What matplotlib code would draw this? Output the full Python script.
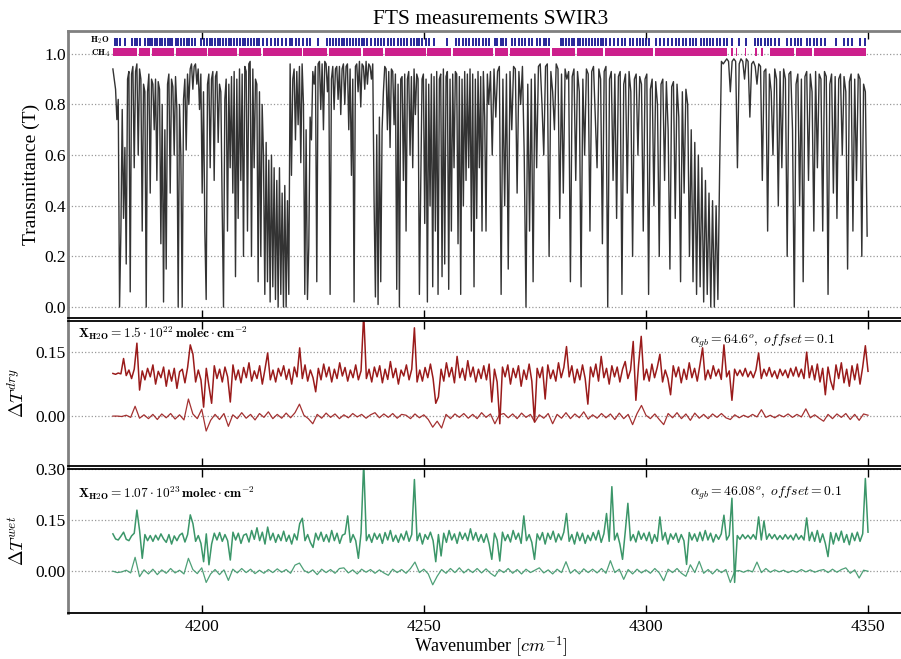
import numpy as np
import matplotlib
matplotlib.use("Agg")
import matplotlib.pyplot as plt

plt.rcParams['font.family'] = ['Liberation Serif', 'DejaVu Serif']
plt.rcParams['mathtext.fontset'] = 'cm'

# ---------------- data ----------------
# transmittance, part A: 4180.0 .. 4264.6 cm-1, sampled every 0.3 cm-1
trans_a = [
    0.94, 0.90, 0.86, 0.74, 0.82, 0.00, 0.30, 0.78, 0.35, 0.63,
    0.17, 0.90, 0.93, 0.06, 0.92, 0.95, 0.55, 0.93, 0.96, 0.60,
    0.94, 0.90, 0.30, 0.88, 0.85, 0.00, 0.85, 0.92, 0.45, 0.90,
    0.88, 0.70, 0.90, 0.50, 0.89, 0.86, 0.25, 0.80, 0.02, 0.70,
    0.15, 0.88, 0.92, 0.45, 0.90, 0.87, 0.60, 0.91, 0.78, 0.00,
    0.80, 0.60, 0.00, 0.82, 0.90, 0.62, 0.92, 0.80, 0.94, 0.96,
    0.86, 0.95, 0.96, 0.88, 0.94, 0.78, 0.92, 0.45, 0.85, 0.30,
    0.03, 0.88, 0.92, 0.55, 0.90, 0.93, 0.50, 0.91, 0.93, 0.65,
    0.88, 0.85, 0.40, 0.00, 0.82, 0.90, 0.30, 0.88, 0.55, 0.91,
    0.45, 0.93, 0.12, 0.90, 0.35, 0.94, 0.50, 0.92, 0.20, 0.95,
    0.93, 0.30, 0.96, 0.97, 0.20, 0.94, 0.55, 0.90, 0.88, 0.10,
    0.85, 0.20, 0.80, 0.60, 0.05, 0.65, 0.10, 0.58, 0.02, 0.60,
    0.08, 0.55, 0.03, 0.50, 0.00, 0.55, 0.05, 0.45, 0.00, 0.48,
    0.00, 0.42, 0.05, 0.96, 0.52, 0.90, 0.94, 0.66, 0.93, 0.72,
    0.95, 0.57, 0.96, 0.80, 0.05, 0.70, 0.03, 0.24, 0.75, 0.66,
    0.93, 0.88, 0.95, 0.10, 0.96, 0.97, 0.78, 0.96, 0.70, 0.97,
    0.96, 0.85, 0.95, 0.05, 0.90, 0.95, 0.78, 0.94, 0.95, 0.82,
    0.95, 0.76, 0.94, 0.96, 0.80, 0.95, 0.96, 0.70, 0.94, 0.52,
    0.90, 0.02, 0.95, 0.96, 0.85, 0.97, 0.79, 0.96, 0.95, 0.86,
    0.97, 0.88, 0.96, 0.95, 0.90, 0.96, 0.42, 0.04, 0.68, 0.01,
    0.75, 0.10, 0.70, 0.85, 0.95, 0.94, 0.70, 0.93, 0.63, 0.94,
    0.93, 0.72, 0.92, 0.07, 0.88, 0.00, 0.90, 0.91, 0.50, 0.92,
    0.30, 0.90, 0.93, 0.60, 0.91, 0.55, 0.94, 0.76, 0.92, 0.90,
    0.05, 0.48, 0.90, 0.92, 0.33, 0.90, 0.02, 0.88, 0.40, 0.92,
    0.08, 0.91, 0.30, 0.93, 0.05, 0.90, 0.92, 0.12, 0.94, 0.17,
    0.91, 0.93, 0.07, 0.90, 0.30, 0.92, 0.55, 0.93, 0.92, 0.25,
    0.91, 0.05, 0.90, 0.40, 0.93, 0.50, 0.92, 0.55, 0.94, 0.30,
    0.92, 0.08, 0.90, 0.35, 0.93, 0.55, 0.91, 0.30, 0.93, 0.75,
    0.30, 0.92, 0.80,
]
# transmittance, part B: 4265.0 .. 4349.8 cm-1, sampled every 0.4 cm-1
trans_b = [
    0.93, 0.60, 0.94, 0.75, 0.93, 0.95, 0.05, 0.90, 0.40, 0.92,
    0.15, 0.93, 0.70, 0.95, 0.94, 0.45, 0.93, 0.80, 0.95, 0.60,
    0.00, 0.88, 0.30, 0.90, 0.10, 0.92, 0.55, 0.95, 0.96, 0.80,
    0.60, 0.95, 0.96, 0.20, 0.93, 0.85, 0.70, 0.96, 0.94, 0.35,
    0.92, 0.45, 0.94, 0.90, 0.93, 0.10, 0.91, 0.94, 0.50, 0.93,
    0.85, 0.08, 0.90, 0.60, 0.94, 0.92, 0.30, 0.93, 0.95, 0.75,
    0.55, 0.94, 0.90, 0.25, 0.93, 0.95, 0.00, 0.90, 0.93, 0.50,
    0.92, 0.35, 0.91, 0.93, 0.05, 0.88, 0.92, 0.45, 0.93, 0.85,
    0.20, 0.90, 0.92, 0.60, 0.91, 0.88, 0.30, 0.90, 0.92, 0.05,
    0.86, 0.90, 0.40, 0.89, 0.80, 0.20, 0.88, 0.90, 0.50, 0.89,
    0.70, 0.15, 0.87, 0.89, 0.35, 0.88, 0.75, 0.10, 0.85, 0.45,
    0.86, 0.80, 0.20, 0.70, 0.10, 0.65, 0.05, 0.60, 0.08, 0.55,
    0.02, 0.50, 0.05, 0.45, 0.00, 0.42, 0.00, 0.40, 0.03, 0.55,
    0.97, 0.96, 0.97, 0.98, 0.97, 0.85, 0.97, 0.98, 0.97, 0.55,
    0.96, 0.98, 0.97, 0.90, 0.98, 0.97, 0.75, 0.96, 0.97, 0.95,
    0.88, 0.96, 0.95, 0.50, 0.93, 0.94, 0.30, 0.92, 0.85, 0.60,
    0.94, 0.90, 0.40, 0.93, 0.55, 0.94, 0.90, 0.20, 0.92, 0.93,
    0.70, 0.00, 0.88, 0.92, 0.40, 0.90, 0.10, 0.91, 0.93, 0.50,
    0.92, 0.85, 0.30, 0.93, 0.55, 0.92, 0.90, 0.30, 0.93, 0.91,
    0.05, 0.88, 0.92, 0.45, 0.91, 0.35, 0.90, 0.92, 0.60, 0.91,
    0.85, 0.15, 0.89, 0.92, 0.30, 0.90, 0.50, 0.92, 0.90, 0.20,
    0.88, 0.85, 0.28,
]

# line positions (cm-1)
h2o_lines = [
    4180.4, 4180.9, 4181.6, 4182.7, 4184.2, 4184.9, 4185.5, 4186.1, 4187.2, 4187.8,
    4188.3, 4188.9, 4189.4, 4190.0, 4190.6, 4191.1, 4191.8, 4192.3, 4192.9, 4193.4,
    4194.2, 4194.7, 4195.3, 4195.9, 4196.6, 4197.2, 4197.8, 4198.4, 4199.9, 4200.5,
    4201.2, 4201.8, 4202.4, 4203.0, 4203.7, 4204.2, 4204.8, 4205.5, 4206.1, 4206.6,
    4207.3, 4207.9, 4208.6, 4209.2, 4209.8, 4210.5, 4211.1, 4211.7, 4212.4, 4213.0,
    4213.9, 4214.7, 4215.6, 4216.4, 4217.2, 4218.1, 4218.9, 4219.8, 4220.4, 4221.2,
    4222.0, 4222.8, 4223.6, 4224.4, 4226.1, 4228.3, 4228.9, 4229.6, 4230.2, 4230.8,
    4231.5, 4232.1, 4232.8, 4233.4, 4234.1, 4234.7, 4235.3, 4236.0, 4236.6, 4237.3,
    4238.2, 4238.9, 4239.7, 4240.4, 4241.1, 4241.9, 4242.6, 4243.3, 4244.1, 4244.8,
    4245.6, 4246.3, 4247.0, 4247.7, 4248.4, 4249.0, 4249.7, 4250.6, 4251.2, 4252.4,
    4255.3, 4257.3, 4258.0, 4258.8, 4259.5, 4260.2, 4261.0, 4261.7, 4262.5, 4263.3,
    4264.0, 4264.7, 4266.0, 4266.5, 4267.3, 4267.9, 4268.4, 4269.8, 4270.5, 4271.5,
    4272.1, 4272.8, 4273.6, 4274.4, 4275.5, 4276.2, 4277.0, 4277.6, 4278.2, 4280.8,
    4281.4, 4282.0, 4282.7, 4283.3, 4283.9, 4284.6, 4285.2, 4285.9, 4286.5, 4287.2,
    4287.8, 4288.5, 4289.1, 4289.8, 4290.4, 4290.9, 4292.0, 4292.8, 4293.7, 4294.6,
    4295.4, 4296.5, 4297.2, 4297.9, 4298.6, 4299.3, 4300.0, 4300.7, 4302.2, 4303.1,
    4304.0, 4304.9, 4305.8, 4306.7, 4307.5, 4308.3, 4309.1, 4309.9, 4310.6, 4311.2,
    4312.3, 4313.0, 4313.7, 4314.4, 4315.2, 4315.9, 4316.7, 4317.5, 4318.2, 4319.3,
    4320.9, 4322.5, 4324.6, 4325.3, 4326.0, 4326.7, 4327.4, 4328.2, 4329.0, 4329.9,
    4331.7, 4332.6, 4333.5, 4334.3, 4335.0, 4336.2, 4337.0, 4337.8, 4338.6, 4339.5,
    4340.4, 4342.7, 4344.5, 4345.4, 4346.3, 4348.3, 4349.4,
]
ch4_start = [4180.0, 4185.8, 4188.8, 4194.1, 4201.5, 4208.3, 4213.7, 4222.9, 4228.7, 4236.2,
             4241.3, 4250.8, 4256.6, 4266.0, 4269.4, 4278.8, 4284.4, 4290.8, 4302.0, 4319.2,
             4320.3, 4322.3, 4324.6, 4325.8, 4328.0, 4333.8, 4337.9]
ch4_end = [4185.4, 4188.4, 4193.7, 4201.1, 4207.9, 4213.3, 4222.5, 4228.3, 4235.8, 4240.9,
           4250.4, 4256.2, 4265.6, 4269.0, 4278.4, 4284.0, 4290.4, 4301.6, 4318.2, 4319.5,
           4320.6, 4322.6, 4324.9, 4326.3, 4333.4, 4337.5, 4349.6]

# residuals in units of 1e-3, 4180 .. 4350 cm-1
dry_res = [
    0, -2, 1, -1, 35, -5, 8, -12, 10, 71, -39, 6, -15, 12, -8, 20, -25, 5, -10, 15,
    -30, 8, -18, 12, -35, 4, 10, -22, 14, 67, 45, -20, 8, -15, -79, 12, -30, -70, 18, -12,
    10, -20, 15, -8, -67, 20, -15, 8, -22, 14, -10, 25, -18, 6, -12, 18, -25, 10, 48, -15,
    8, -20, 12, -6, 18, -14, 10, -25, 15, -8, 60, -12, 20, -18, 8, -10, -43, 12, -15, 22,
    -8, 15, -20, 10, -12, 25, -6, 14, -18, 8, -10, 20, -15, 6, 140, -12, 10, -20, 15, -8,
    18, -22, 10, -14, 28, -10, 12, -25, 8, -6, 20, -15, 10, 107, -20, 8, -18, 14, -10, 22,
    -12, -70, -55, 10, -18, 25, -8, 14, -22, 40, -10, 12, -16, 30, -8, 15, -20, 10, -12, 18,
    -15, 22, -67, 10, -20, -118, 15, -8, 20, -25, 12, -10, 18, -30, 8, -14, 22, -18, -114, 12,
    -10, 15, -60, 20, -12, 8, -18, 25, -10, 14, 63, -8, 18, -22, 10, -15, 20, -12, -72, 15,
    -8, 22, -18, 40, -10, 12, -25, 18, -8, 15, -20, 10, 28, -12, 8, 75, -63, 20, 87, -15,
    10, -18, 22, -10, 14, 45, -20, 8, -12, -50, 18, -8, 15, -22, 10, -14, 25, -10, 12, -18,
    20, 60, -15, 8, -12, 18, -6, 10, -14, 67, -8, 6, -63, 10, -5, 8, -6, 12, -8, 5,
    -10, 8, 48, -12, 10, -6, 14, -8, 6, -12, 10, -5, 8, -10, 12, -6, 15, -8, 10, -12,
    50, -10, 18, -15, 22, -20, 12, -50, 15, -18, -38, 20, -12, 25, -22, 10, -30, 18, -15, 22,
    -25, 15, 65, 5,
]
dry_fit = [
    0, 0, -1, 2, -3, 23, -5, 3, -6, 4, -8, 5, -4, 6, -7, 3, -9, 40, 5, -6,
    16, -35, -10, 4, -8, 6, -24, 3, -6, 8, -5, 4, -9, 6, -3, 10, -6, 4, -5, 7,
    -4, 8, 28, 2, -6, -18, 4, -5, 7, -3, 5, -6, 3, -4, 6, -2, 4, -5, 3, 8,
    -4, 5, -3, 6, -5, 4, 2, -6, 5, -4, 3, -8, -26, -12, -28, 4, -6, 5, -3, 6,
    -5, 4, -6, 8, -3, 5, -18, 3, 6, -4, 5, -6, 7, -3, 4, -14, 3, -5, 6, -18,
    4, -5, 8, -6, 5, -4, 10, -7, 3, -5, 6, -4, 5, -8, 7, -6, 4, -20, 6, 25,
    2, -6, 5, -8, -20, 6, -4, 8, -6, 5, -10, 7, -5, 4, -6, 5, -3, 6, -4, -8,
    3, -4, 2, -3, 4, -2, 15, -3, 2, -4, 3, -2, 5, -3, 4, -2, 17, -4, 3, -5,
    -12, 4, -6, 5, -3, 6, -8, 4, -10, 5, 2,
]
wet_res = [
    10, -5, -8, 3, 15, -6, -10, 4, 12, 80, 20, -62, 8, -10, 5, -12, 6, -8, 10, -5,
    -15, 8, -20, 4, -10, 6, 12, -14, 8, 66, 40, -12, 5, -18, -72, 10, -81, -20, 12, -8,
    14, -12, 8, -10, -67, 15, -8, 12, -18, 6, 10, -14, 20, -6, 28, -10, 15, -20, 30, -8,
    12, -15, 8, -10, 18, -12, 6, -20, 10, -8, 40, 56, -10, 8, -15, -30, 12, -8, 15, -12,
    8, -14, 20, -10, 12, -18, 6, 10, 63, -15, 8, -10, -62, 12, 220, -10, 8, -15, 12, -6,
    10, -18, 14, -8, 20, -12, 6, -15, 10, -8, 18, -12, 8, 170, -10, 12, -20, 8, -6, 15,
    -10, -72, 8, -55, 12, -15, 20, -8, 10, -18, 15, -6, 12, -10, 25, -8, 14, -12, 8, -15,
    10, -20, -65, 12, -8, -70, 15, -10, 8, -14, 20, -6, 12, -18, 63, -10, 8, -15, -65, 10,
    -8, 14, -20, 12, -6, 18, -14, 10, -8, 15, 70, -12, 8, -20, 15, -10, 12, -18, 6, -10,
    14, -8, 20, -15, 10, 70, -12, 149, -8, 12, -20, -65, 15, 100, -10, 8, -14, 18, -6, 12,
    -10, 15, -18, 8, -12, 60, -8, 14, -20, 10, -6, 12, -15, 8, -10, -80, 14, -8, 10, -12,
    15, -10, 20, -8, 12, -14, 8, -6, 10, 65, -8, 6, 115, -133, 5, -6, 8, -4, 6, -5,
    8, -6, 60, -8, 48, -6, 10, -4, 8, -7, 5, -6, 8, -5, 6, -8, 10, -6, 5, -8,
    57, -10, 15, -12, 20, -15, 10, -18, -57, 14, -20, 12, -10, 18, -15, 8, -22, 12, -10, 15,
    -12, 10, 173, 15,
]
wet_fit = [
    0, -4, -2, 3, -5, 41, -16, 4, -8, 6, -10, 4, -6, 8, -5, 3, -8, 38, 5, -7,
    10, -33, -8, 5, -10, 4, -27, 6, -5, 8, -4, 6, -7, 3, -6, 5, -4, 7, -3, 5,
    -6, 18, 24, 3, -5, 4, -10, 6, -4, 5, -6, 8, 10, -5, 4, -8, 6, -3, 5, -6,
    4, -5, -12, 6, -4, 5, -6, 8, 27, -4, 6, -8, -40, -15, 5, -6, 8, -4, 10, -5,
    6, -4, 8, -5, 7, -6, -15, 5, -4, 8, -6, 5, -8, 6, -4, 3, 10, -5, 4, -8,
    6, -4, 28, -6, 5, -8, 7, -4, 6, -5, 8, -6, 31, -4, 6, -24, 5, -8, 6, -5,
    4, -6, 8, -5, -28, 6, -4, 8, -6, -15, 19, -4, 29, -6, 5, -8, 6, -4, 5, -33,
    0, 2, -3, 3, -2, 27, -4, 8, -3, 4, -2, 3, -4, 2, -3, 5, -2, 4, -3, 2,
    5, -4, 6, -3, 5, 10, -6, 4, -20, 3, 0,
]
offset = 0.1

# sampling grids
wn_a = np.linspace(4180.0, 4264.6, len(trans_a))
wn_b = np.linspace(4265.0, 4349.8, len(trans_b))
trans_wn = np.concatenate([wn_a, wn_b])
trans = np.concatenate([trans_a, trans_b])
res_wn = np.linspace(4180, 4350, len(dry_res))
fit_wn = np.linspace(4180, 4350, len(dry_fit))

red = '#9a1b1b'
green = '#3b9669'
serif = ['Liberation Serif', 'DejaVu Serif']

fig = plt.figure(figsize=(9.01, 6.59), dpi=100)
ax1 = fig.add_axes([0.076, 0.5175, 0.9367, 0.4355])
ax2 = fig.add_axes([0.076, 0.2929, 0.9367, 0.2200])
ax3 = fig.add_axes([0.076, 0.0698, 0.9367, 0.2185])


def style(ax):
    ax.set_xlim(4170, 4360)
    ax.spines['right'].set_visible(False)
    ax.spines['left'].set_color('#808080')
    ax.spines['left'].set_linewidth(2.0)
    for s in ['top', 'bottom']:
        ax.spines[s].set_color('black')
        ax.spines[s].set_linewidth(1.3)
    ax.set_xticks([4200, 4250, 4300, 4350])
    ax.set_xticklabels(['4200', '4250', '4300', '4350'])
    ax.tick_params(axis='x', direction='in', top=True, bottom=True,
                   length=6, width=1, labelsize=12.5, pad=4)
    ax.tick_params(axis='y', length=0, labelsize=12.5, pad=2)
    ax.yaxis.grid(True, linestyle=':', color='#999999', linewidth=0.9)
    ax.set_axisbelow(True)


def serif_ticks(ax):
    for lbl in ax.get_xticklabels() + ax.get_yticklabels():
        lbl.set_fontfamily(serif)


for ax in (ax1, ax2, ax3):
    style(ax)

# --- top panel: transmittance ---
ax1.plot(trans_wn, trans, color='#333333', lw=1.0)
ax1.vlines(h2o_lines, 1.032, 1.063, color='#151590', lw=1.3)
ax1.broken_barh([(s, e - s) for s, e in zip(ch4_start, ch4_end)], (0.992, 0.030),
                facecolor='#cc1f8c', edgecolor='none')
ax1.text(4179.3, 1.052, r'$\mathbf{H_2O}$', fontsize=6.5, ha='right', va='center')
ax1.text(4179.3, 1.003, r'$\mathbf{CH_4}$', fontsize=6.5, ha='right', va='center')
ax1.set_ylim(-0.043, 1.09)
ax1.set_yticks([0.0, 0.2, 0.4, 0.6, 0.8, 1.0])
ax1.set_yticklabels(['0.0', '0.2', '0.4', '0.6', '0.8', '1.0'])
ax1.tick_params(axis='x', labelbottom=False)
ax1.spines['top'].set_color('#808080')
ax1.spines['top'].set_linewidth(2.0)
ax1.set_ylabel('Transmittance (T)', fontsize=14)
ax1.yaxis.set_label_coords(-0.034, 0.5)
ax1.set_title('FTS measurements SWIR3', fontsize=15.5, pad=5)

# --- middle panel: dry residuals ---
ax2.plot(res_wn, np.array(dry_res) / 1000 + offset, color=red, lw=1.1)
ax2.plot(fit_wn, np.array(dry_fit) / 1000, color=red, lw=0.9, alpha=0.9)
ax2.set_ylim(-0.117, 0.223)
ax2.set_yticks([0.0, 0.15])
ax2.set_yticklabels(['0.00', '0.15'])
ax2.tick_params(axis='x', labelbottom=False)
ax2.set_ylabel(r'$\Delta T^{dry}$', fontsize=13.5)
ax2.yaxis.set_label_coords(-0.048, 0.5)
ax2.text(4172.1, 0.195, r'$\mathbf{X_{H2O}=1.5\cdot10^{22}\,molec\cdot cm^{-2}}$',
         fontsize=9.6, ha='left', va='center')
ax2.text(4309.9, 0.176, r'$\alpha_{gb}=64.6^o,\ offset=0.1$',
         fontsize=9.8, ha='left', va='center')

# --- bottom panel: wet residuals ---
ax3.plot(res_wn, np.array(wet_res) / 1000 + offset, color=green, lw=1.1)
ax3.plot(fit_wn, np.array(wet_fit) / 1000, color=green, lw=0.9, alpha=0.9)
ax3.set_ylim(-0.123, 0.301)
ax3.set_yticks([0.0, 0.15, 0.30])
ax3.set_yticklabels(['0.00', '0.15', '0.30'])
ax3.set_ylabel(r'$\Delta T^{wet}$', fontsize=13.5)
ax3.yaxis.set_label_coords(-0.048, 0.5)
ax3.text(4172.1, 0.229, r'$\mathbf{X_{H2O}=1.07\cdot10^{23}\,molec\cdot cm^{-2}}$',
         fontsize=9.6, ha='left', va='center')
ax3.text(4309.9, 0.229, r'$\alpha_{gb}=46.08^o,\ offset=0.1$',
         fontsize=9.8, ha='left', va='center')
ax3.set_xlabel(r'Wavenumber $[cm^{-1}]$', fontsize=13, labelpad=0)

for ax in (ax1, ax2, ax3):
    serif_ticks(ax)

fig.savefig('out.png', dpi=100)
